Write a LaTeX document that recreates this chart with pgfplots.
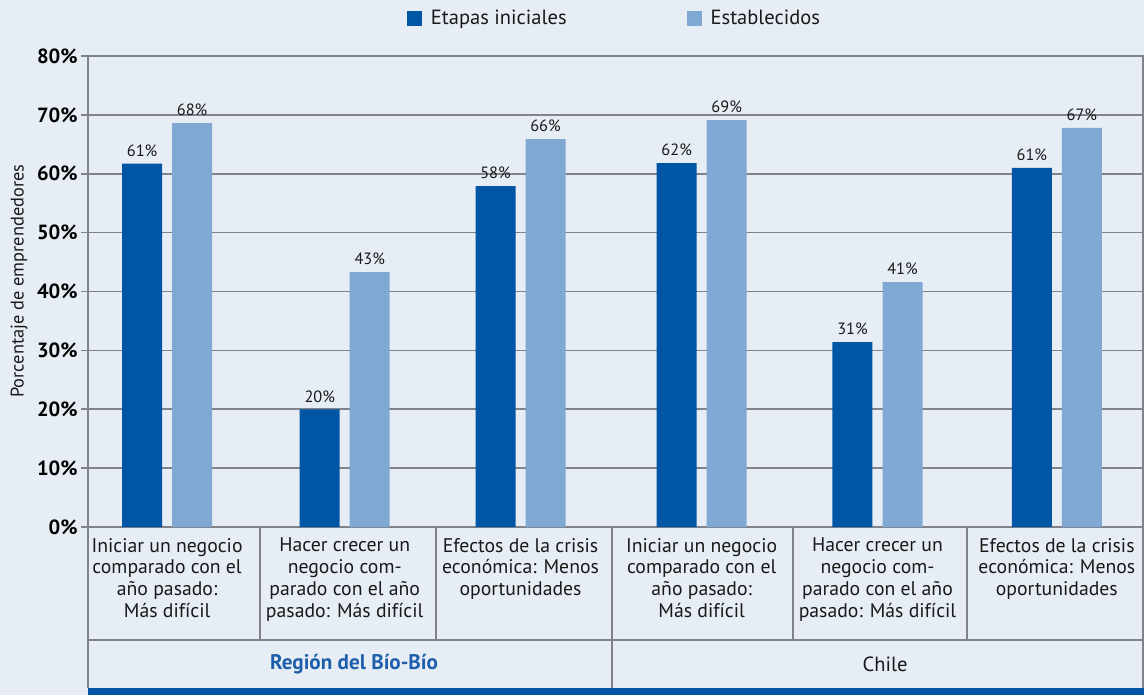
\documentclass[border=0pt]{standalone}
\usepackage{pgfplots}
\pgfplotsset{compat=1.18}
\usepackage{fontspec}
\setmainfont{PT Sans}
\definecolor{dblue}{RGB}{0,85,165}
\definecolor{lblue}{RGB}{127,169,210}
\definecolor{bg}{RGB}{230,237,245}
\definecolor{lgray}{RGB}{128,131,137}
\definecolor{tblue}{RGB}{30,95,170}
\definecolor{txt}{RGB}{25,25,25}
\begin{document}
\begin{tikzpicture}
\fill[bg] (-44bp,-84bp) rectangle (528bp,263.5bp);
\begin{axis}[
  at={(0,0)}, anchor=south west,
  scale only axis, width=527.5bp, height=235.5bp,
  xmin=0, xmax=6, ymin=0, ymax=80,
  clip=false,
  axis line style={lgray, line width=0.8bp},
  ytick={0,10,...,80},
  yticklabels={0\%,10\%,20\%,30\%,40\%,50\%,60\%,70\%,80\%},
  yticklabel style={font=\bfseries\fontsize{10.3}{11}\selectfont, text=black, inner sep=1.5bp},
  ymajorgrids, grid style={lgray, line width=0.8bp},
  y tick style={lgray, line width=0.8bp},
  tick align=outside, major tick length=3.5bp,
  tickpos=left,
  xtick={0.45,1.46,2.46,3.49,4.49,5.51},
  xticklabels={
    {Iniciar un negocio\\comparado con el\\año pasado:\\Más difícil},
    {Hacer crecer un\\negocio com-\\parado con el año\\pasado: Más difícil},
    {Efectos de la crisis\\económica: Menos\\oportunidades},
    {Iniciar un negocio\\comparado con el\\año pasado:\\Más difícil},
    {Hacer crecer un\\negocio com-\\parado con el año\\pasado: Más difícil},
    {Efectos de la crisis\\económica: Menos\\oportunidades}},
  x tick style={draw=none},
  xticklabel style={align=center, anchor=north, text=txt, yshift=1.5bp, font=\fontsize{9.9}{11}\selectfont},
  ylabel={Porcentaje de emprendedores},
  ylabel style={font=\fontsize{9.2}{10}\selectfont, text=txt, at={(axis description cs:-0.0654,0.522)}, anchor=center},
  legend style={at={(0.5,1.079)}, anchor=center, draw=none, fill=none,
    legend columns=2, font=\fontsize{10.3}{11}\selectfont, text=txt,
    /tikz/every odd column/.append style={column sep=2.5bp},
    /tikz/every even column/.append style={column sep=58bp}},
  every node near coord/.append style={font=\fontsize{8.2}{9}\selectfont, text=txt},
]
\addplot[ybar, bar width=20bp, bar shift=-12.5bp, fill=dblue, draw=none,
  nodes near coords, point meta=explicit symbolic,
  every node near coord/.append style={xshift=-12.5bp},
  legend image code/.code={\fill[dblue] (0bp,-3.75bp) rectangle (7.5bp,3.75bp);}]
  coordinates {(0.45,61.7)[61\%] (1.46,20.0)[20\%] (2.46,57.9)[58\%]
               (3.49,61.8)[62\%] (4.49,31.4)[31\%] (5.51,61.0)[61\%]};
\addlegendentry{Etapas iniciales}
\addplot[ybar, bar width=20bp, bar shift=12.5bp, fill=lblue, draw=none,
  nodes near coords, point meta=explicit symbolic,
  every node near coord/.append style={xshift=12.5bp},
  legend image code/.code={\fill[lblue] (0bp,-3.75bp) rectangle (7.5bp,3.75bp);}]
  coordinates {(0.45,68.6)[68\%] (1.46,43.3)[43\%] (2.46,65.9)[66\%]
               (3.49,69.1)[69\%] (4.49,41.6)[41\%] (5.51,67.8)[67\%]};
\addlegendentry{Establecidos}
% category table lines
\draw[lgray, line width=0.8bp] (axis cs:0,0) -- ([yshift=-80.5bp]axis cs:0,0);
\draw[lgray, line width=0.8bp] (axis cs:6,0) -- ([yshift=-80.5bp]axis cs:6,0);
\draw[lgray, line width=0.8bp] (axis cs:2.98,0) -- ([yshift=-80.5bp]axis cs:2.98,0);
\draw[lgray, line width=0.8bp] (axis cs:0.978,0) -- ([yshift=-56.5bp]axis cs:0.978,0);
\draw[lgray, line width=0.8bp] (axis cs:1.979,0) -- ([yshift=-56.5bp]axis cs:1.979,0);
\draw[lgray, line width=0.8bp] (axis cs:4.01,0) -- ([yshift=-56.5bp]axis cs:4.01,0);
\draw[lgray, line width=0.8bp] (axis cs:5.0,0) -- ([yshift=-56.5bp]axis cs:5.0,0);
\draw[lgray, line width=0.8bp] ([yshift=-56.5bp]axis cs:0,0) -- ([yshift=-56.5bp]axis cs:6,0);
\fill[dblue] ([yshift=-80.5bp]axis cs:0,0) rectangle ([yshift=-84bp,xshift=1bp]axis cs:6,0);
\node[font=\bfseries\fontsize{10.6}{11}\selectfont, text=tblue] at ([yshift=-68.5bp]axis cs:1.513,0) {Región del Bío-Bío};
\node[font=\fontsize{10.3}{11}\selectfont, text=txt] at ([yshift=-68.5bp]axis cs:4.533,0) {Chile};
\end{axis}
\pgfresetboundingbox
\path[use as bounding box] (-44bp,-84bp) rectangle (528bp,263.5bp);
\end{tikzpicture}
\end{document}
